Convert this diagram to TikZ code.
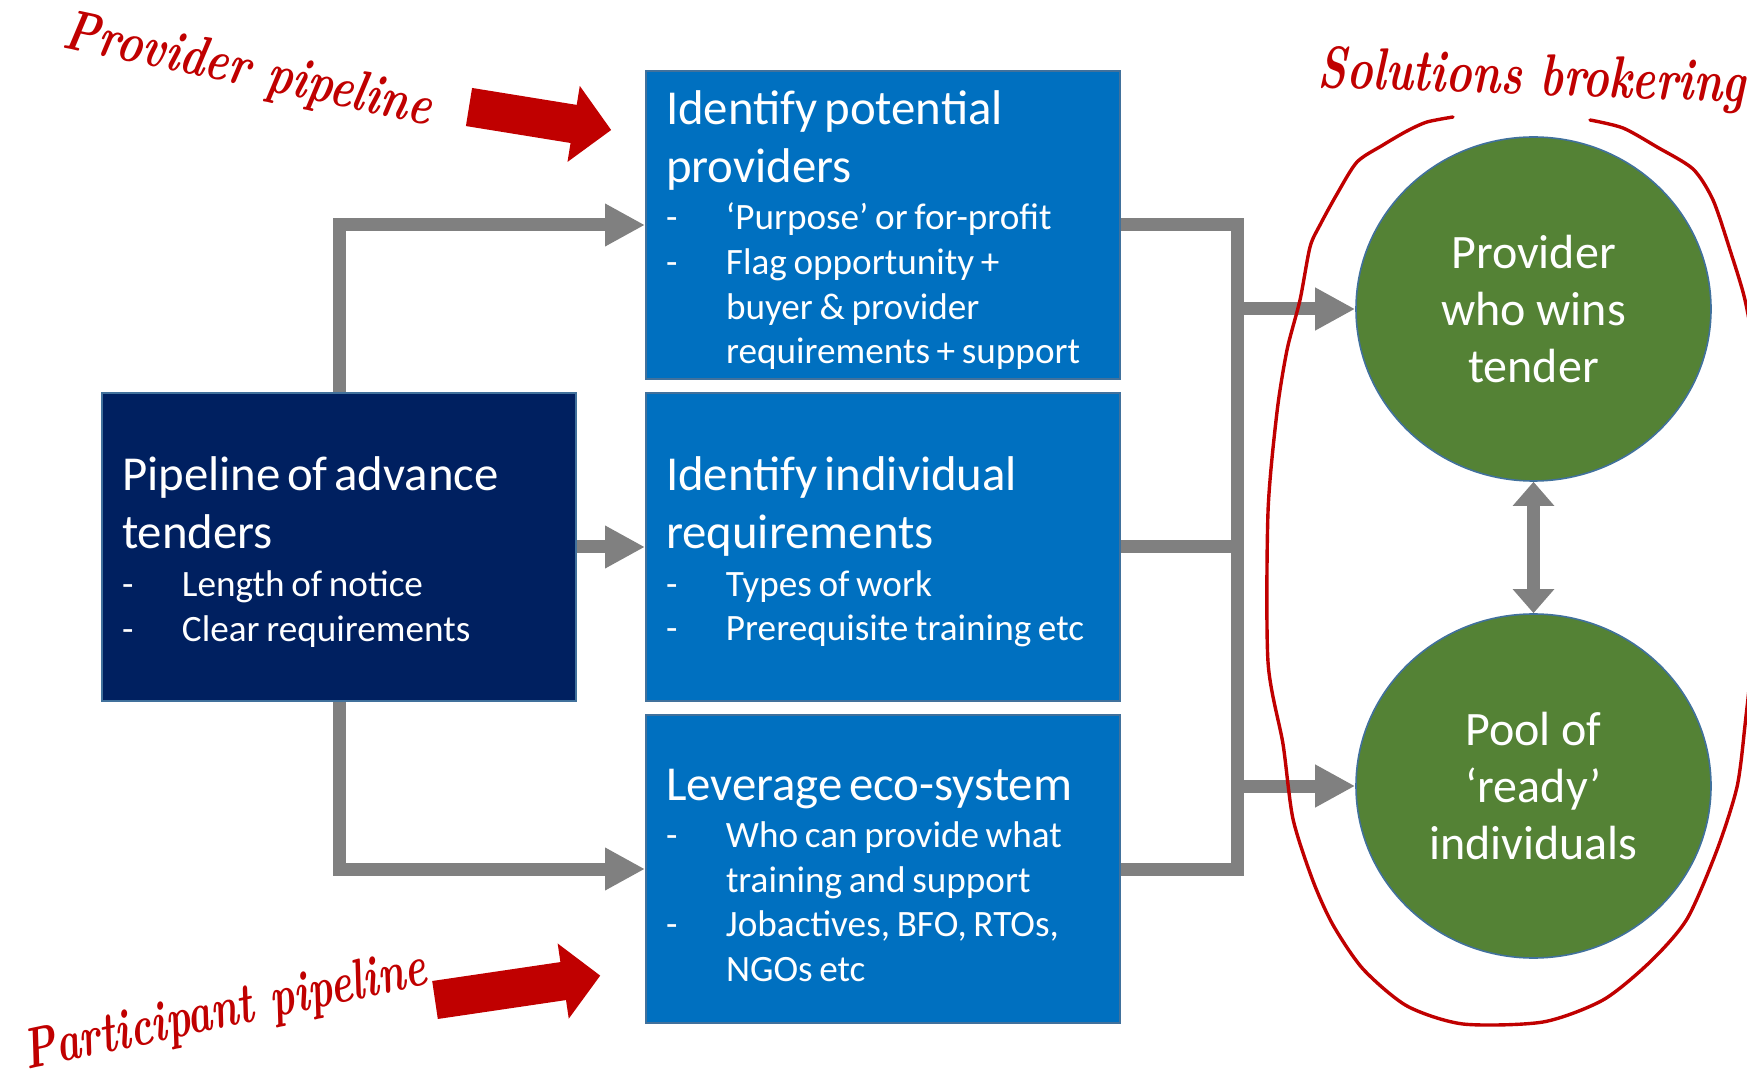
\documentclass[tikz,border=0pt]{standalone}
\usepackage{fontspec}
\usepackage{graphicx}
\newfontfamily\boxfont{Carlito}
\usetikzlibrary{arrows.meta,shapes.geometric}
\definecolor{boxblue}{HTML}{0070C0}
\definecolor{navy}{HTML}{002060}
\definecolor{leaf}{HTML}{548235}
\definecolor{edgeblue}{HTML}{41719C}
\definecolor{redink}{HTML}{C00000}
\definecolor{conngray}{HTML}{808080}
\newcommand\titl[1]{{\fontsize{24.4}{29}\selectfont\rule{0pt}{22pt}#1\par}}
\newcommand\bul[1]{{\fontsize{18.6}{22.3}\selectfont\leftskip=30pt\noindent\llap{\makebox[30pt][l]{-}}#1\par}}
\tikzset{
  stagebox/.style={rectangle, draw=edgeblue, line width=1pt, fill=boxblue,
    minimum width=237pt, minimum height=154pt, text width=217pt,
    inner xsep=10pt, inner ysep=0pt, align=left, text=white, font=\boxfont},
  navybox/.style={stagebox, fill=navy},
  circ/.style={ellipse, fill=leaf, draw=edgeblue, line width=0.8pt,
    minimum width=177.5pt, minimum height=172pt, inner sep=0pt, align=center,
    text=white, font=\boxfont\fontsize{24}{28.5}\selectfont},
  conn/.style={draw=conngray, line width=6.5pt},
  arr/.style={conn, -{Triangle[length=20pt,width=20pt]}},
  dbl/.style={conn, {Triangle[length=12pt,width=20pt]}-{Triangle[length=12pt,width=20pt]}},
  scriptlabel/.style={text=redink, inner sep=0pt, font=\fontsize{22}{26}\selectfont\bfseries\itshape},
  redarrow/.style={fill=redink},
  loop/.style={draw=redink, line width=1.7pt, line cap=round, line join=round}
}
\begin{document}
\begin{tikzpicture}[x=0.5pt, y=-0.5pt]
\useasboundingbox (0,0) rectangle (1747,1080);

% boxes
\node[navybox] (dark) at (339,547) {\titl{Pipeline of advance\\tenders}\vspace{1.5pt}\bul{Length of notice}\bul{Clear requirements}};
\node[stagebox] (b1) at (883,225) {\titl{Identify potential\\providers}\vspace{1.5pt}\bul{‘Purpose’ or for-profit}\bul{Flag opportunity +\\buyer \& provider\\requirements + support}};
\node[stagebox] (b2) at (883,547) {\titl{Identify individual\\requirements}\vspace{1.5pt}\bul{Types of work}\bul{Prerequisite training etc}};
\node[stagebox] (b3) at (883,869) {\titl{Leverage eco-system}\vspace{1.5pt}\bul{Who can provide what\\training and support}\bul{Jobactives, BFO, RTOs,\\NGOs etc}};

% circles
\node[circ] (c1) at (1533.5,309) {Provider\\who wins\\tender};
\node[circ] (c2) at (1533.5,786) {Pool of\\‘ready’\\individuals};

% connector points
\coordinate (up) at (339,225);
\coordinate (dn) at (339,869);
\coordinate (bus1) at (1237,225);
\coordinate (bus2) at (1237,547);
\coordinate (bus3) at (1237,869);
\coordinate (busA) at (1237,309);
\coordinate (busB) at (1237,786);

\draw[arr] (dark.north) -- (up) -- (b1.west);
\draw[arr] (dark.south) -- (dn) -- (b3.west);
\draw[arr] (dark.east) -- (b2.west);
\draw[conn] (b1.east) -- (bus1) -- (bus3) -- (b3.east);
\draw[conn] (b2.east) -- (bus2);
\draw[arr] (busA) -- (c1.west);
\draw[arr] (busB) -- (c2.west);
\draw[dbl] (c1.south) -- (c2.north);

% red block arrows
\fill[redarrow, shift={(469,107)}, rotate=-9.2] (0,-19.3) -- (106,-19.3) -- (106,-38.5) -- (144,0) -- (106,38.5) -- (106,19.3) -- (0,19.3) -- cycle;
\fill[redarrow, shift={(435,1000)}, rotate=8.4] (0,-19.2) -- (129.6,-19.2) -- (129.6,-38) -- (167,0) -- (129.6,38) -- (129.6,19.2) -- (0,19.2) -- cycle;

% handwritten labels
\node[scriptlabel, rotate=-12] (lp) at (248,72) {\scalebox{0.99}[1.3]{Provider pipeline}};
\node[scriptlabel, rotate=12] (lq) at (225,1013) {\scalebox{0.94}[1.3]{Participant pipeline}};
\node[scriptlabel, rotate=-2] (ls) at (1532,80) {\scalebox{1}[1.35]{Solutions brokering}};

% hand-drawn loop
\draw[loop] plot[smooth, tension=0.45] coordinates {
(1453,117) (1427,122) (1407,131) (1383,145) (1357,162) (1337,194) (1320,225)
(1310,247) (1300,300) (1287,350) (1277,412) (1268,512) (1268,662) (1283,744)
(1293,819) (1313,881) (1333,925) (1363,969) (1407,1006) (1463,1024) (1543,1022)
(1603,1000) (1650,962) (1687,919) (1717,850) (1737,787) (1745,725) (1752,650)
(1755,500) (1752,350) (1745,300) (1730,250) (1713,200) (1693,169) (1657,147)
(1623,128) (1590,120)};
\end{tikzpicture}
\end{document}
